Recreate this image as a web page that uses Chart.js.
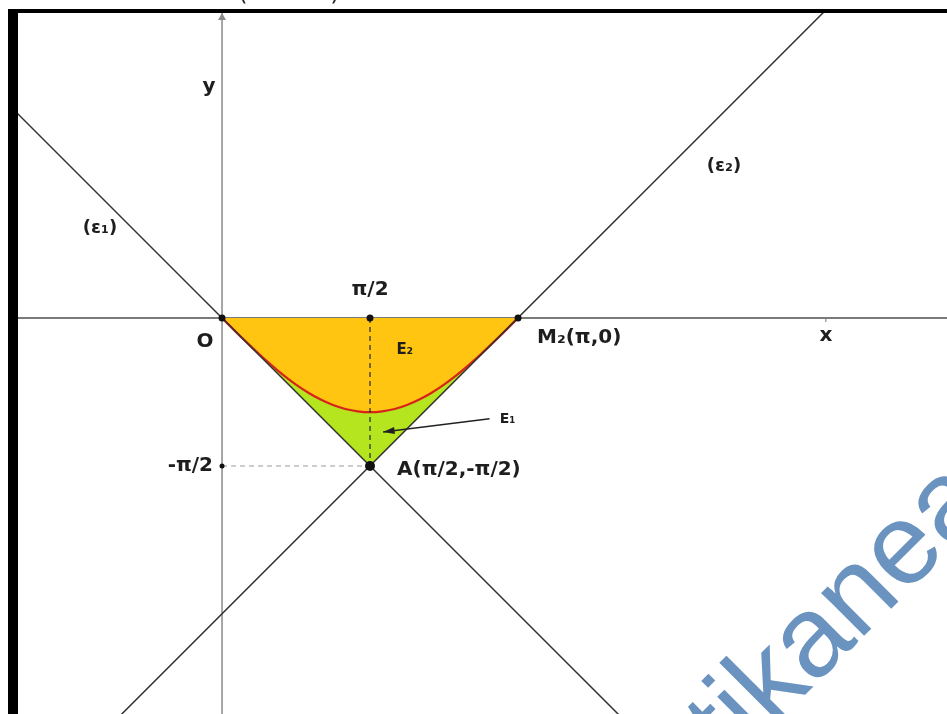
<!DOCTYPE html>
<html>
<head>
<meta charset="utf-8">
<script src="https://cdn.jsdelivr.net/npm/chart.js@4.4.0/dist/chart.umd.min.js"></script>
<style>
  body { margin: 0; background: #fff; }
  canvas { display: block; }
</style>
</head>
<body>
<canvas id="myChart" width="947" height="714"></canvas>
<script>
// red curve (x in rad)
const curveX = [0, 0.131, 0.262, 0.393, 0.524, 0.654, 0.785, 0.916, 1.047, 1.178, 1.309, 1.440, 1.571,
  1.702, 1.833, 1.963, 2.094, 2.225, 2.356, 2.487, 2.618, 2.749, 2.880, 3.011, 3.142];
const curveY = [0, -0.131, -0.259, -0.383, -0.5, -0.609, -0.707, -0.793, -0.866, -0.924, -0.966, -0.991, -1.0,
  -0.991, -0.966, -0.924, -0.866, -0.793, -0.707, -0.609, -0.5, -0.383, -0.259, -0.131, 0];
// lower edge of the green region (the two lines meeting at A)
const wedgeY = [0, -0.131, -0.262, -0.393, -0.524, -0.654, -0.785, -0.916, -1.047, -1.178, -1.309, -1.440, -1.571,
  -1.440, -1.309, -1.178, -1.047, -0.916, -0.785, -0.654, -0.524, -0.393, -0.262, -0.131, 0];

// (ε1) and (ε2)
const e1X = [-2.5, 5.0];
const e1Y = [2.5, -5.0];
const e2X = [-1.5, 8.0];
const e2Y = [-4.64, 4.86];

// O, π/2, M2, A, -π/2
const ptX = [0, 1.571, 3.142, 1.571, 0];
const ptY = [0, 0, 0, -1.571, -1.571];

function toXY(xs, ys) {
  return xs.map((x, i) => ({ x: x, y: ys[i] }));
}

const BOLD = "bold 20px 'DejaVu Sans'";

var figurePlugin = {
  id: "figure",
  beforeDatasetsDraw(chart) {
    const ctx = chart.ctx;
    const sx = chart.scales.x, sy = chart.scales.y;
    const ox = sx.getPixelForValue(0), oy = sy.getPixelForValue(0);
    const a = chart.chartArea;
    ctx.save();
    // x axis
    ctx.strokeStyle = "#7a7a7a";
    ctx.lineWidth = 2;
    ctx.beginPath();
    ctx.moveTo(a.left, oy);
    ctx.lineTo(a.right, oy);
    ctx.stroke();
    // small tick under x
    const tx = sx.getPixelForValue(6.41);
    ctx.lineWidth = 1;
    ctx.beginPath();
    ctx.moveTo(tx, oy);
    ctx.lineTo(tx, oy + 4);
    ctx.stroke();
    // y axis with arrow
    ctx.strokeStyle = "#8a8a8a";
    ctx.lineWidth = 1.5;
    ctx.beginPath();
    ctx.moveTo(ox, a.bottom);
    ctx.lineTo(ox, a.top + 3);
    ctx.stroke();
    ctx.fillStyle = "#8a8a8a";
    ctx.beginPath();
    ctx.moveTo(ox, a.top + 3);
    ctx.lineTo(ox - 4, a.top + 10);
    ctx.lineTo(ox + 4, a.top + 10);
    ctx.closePath();
    ctx.fill();
    ctx.restore();
  },
  afterDraw(chart) {
    const ctx = chart.ctx;
    const sx = chart.scales.x, sy = chart.scales.y;
    const px = (v) => sx.getPixelForValue(v);
    const py = (v) => sy.getPixelForValue(v);
    ctx.save();

    // arrow E1 -> green region
    const x0 = px(2.84), y0 = py(-1.07), x1 = px(1.71), y1 = py(-1.21);
    ctx.strokeStyle = "#222";
    ctx.fillStyle = "#222";
    ctx.lineWidth = 1.5;
    ctx.beginPath();
    ctx.moveTo(x0, y0);
    ctx.lineTo(x1, y1);
    ctx.stroke();
    const ang = Math.atan2(y1 - y0, x1 - x0);
    ctx.beginPath();
    ctx.moveTo(x1, y1);
    ctx.lineTo(x1 - 12 * Math.cos(ang - 0.3), y1 - 12 * Math.sin(ang - 0.3));
    ctx.lineTo(x1 - 12 * Math.cos(ang + 0.3), y1 - 12 * Math.sin(ang + 0.3));
    ctx.closePath();
    ctx.fill();

    // labels
    ctx.fillStyle = "#1e1e1e";
    ctx.textBaseline = "middle";
    function label(text, x, y, align, font) {
      ctx.font = font || BOLD;
      ctx.textAlign = align || "center";
      ctx.fillText(text, x, y);
    }
    label("y", px(0) - 13, py(2.45));
    label("x", px(6.41), py(0) + 18);
    label("O", px(0) - 17, py(0) + 24);
    label("π/2", px(1.571), py(0) - 28);
    label("M₂(π,0)", px(3.142) + 19, py(0) + 20, "left");
    label("-π/2", px(0) - 9, py(-1.571), "right");
    label("A(π/2,-π/2)", px(1.571) + 27, py(-1.571) + 4, "left");
    label("E₂", px(1.94), py(-0.34), "center", "bold 15px 'DejaVu Sans'");
    label("E₁", px(2.84) + 18, py(-1.07) + 1, "center", "bold 14px 'DejaVu Sans'");
    label("(ε₁)", 100, 228, "center", "bold 18px 'DejaVu Sans'");
    label("(ε₂)", 724, 166, "center", "bold 18px 'DejaVu Sans'");

    // watermark
    ctx.save();
    ctx.translate(714, 786);
    ctx.rotate(-Math.PI / 4);
    ctx.font = "115px 'Liberation Sans'";
    ctx.fillStyle = "#6b93c0";
    ctx.textAlign = "left";
    ctx.textBaseline = "alphabetic";
    ctx.fillText("itikanea", 0, 0);
    ctx.restore();

    // frame: thick left bar, top rule and clipped caption brackets
    ctx.fillStyle = "#000";
    ctx.fillRect(8, 10, 10, 704);
    ctx.fillRect(8, 9, 939, 4);
    ctx.font = "24px 'DejaVu Sans'";
    ctx.textBaseline = "bottom";
    ctx.textAlign = "center";
    ctx.fillStyle = "#222";
    ctx.fillText("(", 243, 6);
    ctx.fillText(")", 335, 6);
    ctx.restore();
  }
};

const ctx = document.getElementById("myChart").getContext("2d");
var chart = new Chart(ctx, {
  type: "line",
  data: {
    datasets: [
      {
        data: toXY(curveX, curveY),
        borderColor: "#d8231b",
        borderWidth: 2.2,
        backgroundColor: "#ffc510",
        fill: "origin",
        pointRadius: 0,
        cubicInterpolationMode: "monotone",
        order: 2
      },
      {
        data: toXY(curveX, wedgeY),
        borderWidth: 0,
        borderColor: "rgba(0,0,0,0)",
        backgroundColor: "#b4e51e",
        fill: 0,
        pointRadius: 0,
        tension: 0,
        order: 3
      },
      {
        data: toXY(e1X, e1Y),
        borderColor: "#333",
        borderWidth: 1.5,
        pointRadius: 0,
        fill: false,
        order: 1
      },
      {
        data: toXY(e2X, e2Y),
        borderColor: "#333",
        borderWidth: 1.5,
        pointRadius: 0,
        fill: false,
        order: 1
      },
      {
        // vertical dashed from π/2 down to A
        data: toXY([ptX[1], ptX[3]], [ptY[1], ptY[3]]),
        borderColor: "#333",
        borderWidth: 1.3,
        borderDash: [5, 4],
        pointRadius: 0,
        fill: false,
        order: 1
      },
      {
        // horizontal dashed from -π/2 to A
        data: toXY([ptX[4], ptX[3]], [ptY[4], ptY[3]]),
        borderColor: "#9a9a9a",
        borderWidth: 1.2,
        borderDash: [5, 4],
        pointRadius: 0,
        fill: false,
        order: 1
      },
      {
        data: toXY(ptX, ptY),
        showLine: false,
        pointRadius: [3.5, 3.5, 3.5, 5, 2.5],
        pointBackgroundColor: "#111",
        pointBorderWidth: 0,
        fill: false,
        order: 0
      }
    ]
  },
  options: {
    responsive: false,
    animation: false,
    layout: { autoPadding: false, padding: { left: 18, top: 10, right: 0, bottom: 0 } },
    scales: {
      x: { type: "linear", min: -2.166, max: 7.696, display: false },
      y: { type: "linear", min: -4.204, max: 3.27, display: false }
    },
    plugins: {
      legend: { display: false },
      tooltip: { enabled: false }
    }
  },
  plugins: [figurePlugin]
});
</script>
</body>
</html>
